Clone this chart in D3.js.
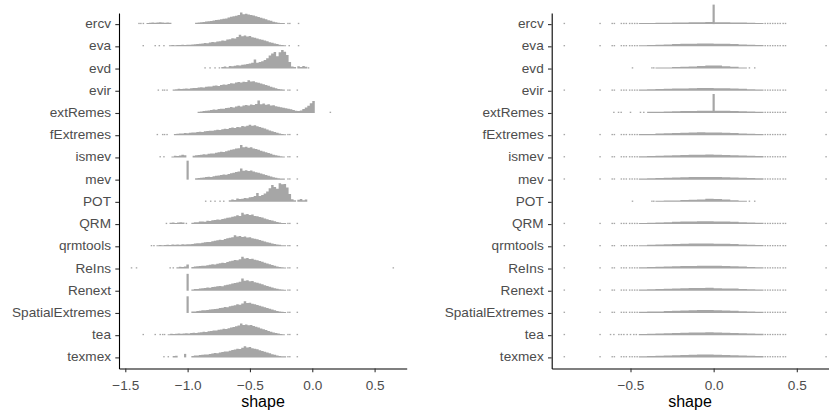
<!DOCTYPE html>
<html>
<head>
<meta charset="utf-8">
<script src="https://cdn.jsdelivr.net/npm/d3@7"></script>
<style>
  body { margin: 0; background: #fff; }
  svg { display: block; font-family: "Liberation Sans", Arial, sans-serif; }
</style>
</head>
<body>
<div id="container"></div>
<script>
var categories = ["ercv", "eva", "evd", "evir", "extRemes", "fExtremes", "ismev", "mev",
  "POT", "QRM", "qrmtools", "ReIns", "Renext", "SpatialExtremes", "tea", "texmex"];

var leftTicks = [-1.5, -1.0, -0.5, 0.0, 0.5];
var rightTicks = [-0.5, 0.0, 0.5];

// histogram bins: [start, counts...] per row, left panel bins are 0.02 wide
var leftBinWidth = 0.02;
var leftSegments = [
  [[-1.33, [0.8,1,1.2,1,1.3,1.5,1.2,1,1.3,1]],
   [-0.94, [1,1.3,1.5,1.6,2,2.2,2.4,2.8,3.1,3.3,3.7,4.2,4.4,5,5.6,6.1,6.4,7,8.9,7.6,8,7.4,7.1,6.6,6,5.4,4.8,4.4,3.7,3,2.5,1.9,1.4,1.1,0.9,0.8]]],
  [[-1.15, [0.8,1,0.8,1,1,1.2,1,1.3,1.2,1.5,1.6,1.8,2,2.1,2.5,2.4,2.9,3.3,3.1,3.8,4,4.5,4.3,5.2,5.5,6.3,6.1,7.2,8.9,7.8,8.3,7.6,7.9,7,6.6,6.1,5.5,5,4.4,3.9,3.2,2.7,2.1,1.7,1.3,1,0.8]]],
  [[-0.73, [1.2,1.5,1,2,1.8,2.2,2.5,2.3,3,3.2,3.5,3.8,4.5,7,4.5,5,5.6,6.5,8,10,11.5,12.8,9.5,12.5,14.3,13,10.5,5,1.5,1.2]],
   [-0.12, [1.8,1.2,2,1.4]]],
  [[-1.12, [1,1.2,1.5,1.3,1.5,1.8,1.6,2,2.2,2.1,2.5,2.8,2.6,3,3.3,3.2,3.8,4,3.7,4.4,4.8,4.6,5.3,5.8,5.5,6.3,6.8,6.4,7,6.8,8,7.1,7.4,6.6,6.2,5.6,5,4.4,3.8,3.1,2.5,1.9,1.4,1.1,0.9]]],
  [[-0.92, [1,1.2,1.5,1.8,2,2.3,2.6,2.4,3,3.3,3.2,3.8,4,4.6,4.3,5,5.6,4.9,5.8,6.2,5.7,6.6,6.1,7,9.6,6.8,7.2,6.3,6.7,5.8,6,5.2,4.8,4.5,4,3.6,3.2,2.8,2.2,1.8,1.5,2,3,4.2,5.5,7.5,9.2]]],
  [[-1.11, [0.9,1.1,1.3,1.4,1.6,1.5,1.9,2.1,2,2.4,2.6,2.5,3,3.2,3.5,3.4,3.9,4.2,4,4.6,5,4.8,5.5,5.9,5.6,6.4,6.2,7,6.6,7.3,8,7.2,7.6,6.8,6.3,5.7,5.1,4.3,3.7,3,2.4,1.8,1.4,1,0.8]]],
  [[-1.13, [0.8,1.2,1,1.5,2,1.6]],
   [-0.96, [1.3,1.6,1.8,2.1,2.4,2.3,2.8,3.1,3,3.5,3.9,4.3,4.1,4.8,5.3,5.9,6.2,6.8,7.1,9.5,7.8,8.2,7.5,7.9,6.9,6.4,5.9,5.2,4.6,4,3.4,2.8,2.1,1.6,1.2,0.9,0.8]]],
  [[-0.94, [1,1.3,1.4,1.7,2,2.2,2.1,2.6,2.9,3.2,3.5,3.9,3.7,4.4,4.9,5.3,5.8,6.2,8.5,6.9,7.3,6.7,7,6.2,5.7,5.3,4.7,4.1,3.6,3,2.4,1.9,1.4,1.1,0.9,0.8]]],
  [[-0.67, [1.2,1.8,1.5,2.5,2.2,2.4,3,2.8,3.5,3.8,4.5,6.9,4.6,5.2,6.5,8,10.5,13,11.5,10,14.3,13.6,13.8,11,6,2,1.3]],
   [-0.12, [1.6,2.2,1.2,1.8]]],
  [[-1.145, [1,1.2,0.8,1.3,1.5,1.2]],
   [-0.97, [1,1.5,1.5,2,2,1.8,2.5,2.4,3,3.2,3.6,3.3,4,4.3,4.8,5.1,5.6,6,6.8,6.3,8.7,7.4,7.8,7,7.3,6.2,6.1,5.4,5,4.2,3.8,3.1,2.7,2.2,1.6,1.2,0.9,0.8]]],
  [[-1.25, [0.8,1,0.8,1,1.2,1,1.3,1.1,1.4,1.2,1.5,1.3,1.6,1.5,1.8,2.1,2.4,2.3,2.8,3.1,3.4,3.3,3.9,4.2,4.6,5,4.8,5.6,6.1,6.5,7,8.5,7.6,7.9,7.2,7.5,6.8,7,6.2,5.8,5.4,4.9,4.3,3.7,3.2,2.7,2.2,1.8,1.4,1.1,0.9,0.8]]],
  [[-1.09, [1,1.4,1.2,1.6,3]],
   [-0.97, [1.2,1.5,1.7,2,2.2,2.1,2.6,2.9,3.2,3.1,3.7,4,4.5,4.3,5.1,5.6,6,6.5,6.3,7.2,9,7.8,8.1,7.4,7.6,6.8,6.3,5.7,5.2,4.5,3.9,3.3,2.7,2.1,1.6,1.2,0.9,0.8]]],
  [[-0.97, [1,1.3,1.4,1.7,1.9,2.1,2.4,2.3,2.8,3,3.4,3.7,3.5,4.2,4.6,5,5.5,6,6.4,7,9.5,7.6,8,7.3,7.5,6.6,6.1,5.6,4.9,4.3,3.7,3.1,2.5,2,1.5,1.1,0.9,0.8]]],
  [[-0.97, [1.1,1.2,1.5,1.6,2,2.1,2.3,2.6,2.9,3.1,3.3,3.8,4,4.5,4.4,5.1,5.5,6,6.6,6.3,7.2,9,7.7,7.9,7.1,6.7,6.2,5.6,5,4.4,3.8,3.2,2.6,2,1.5,1.1,0.9,0.8]]],
  [[-1.16, [0.8,1,0.9,1.1,1.2,1,1.3,1.4,1.3,1.6,1.8,1.7,2.1,2.3,2.6,2.5,3,3.3,3.6,3.5,4.1,4.4,4.9,4.7,5.4,5.9,6.3,6.8,7.4,9,7.9,8.3,7.6,7.8,7,6.4,5.9,5.2,4.6,4,3.3,2.7,2.1,1.6,1.2,0.9,0.8]]],
  [[-1.12, [1,1.2]],
   [-0.97, [1,1.4,1.5,1.8,2,2.3,2.2,2.7,3,3.3,3.2,3.8,4.1,4.6,4.5,5.2,5.7,6.1,6.7,6.5,7.4,8.5,7.6,8,7.1,6.6,6.2,5.5,4.9,4.3,3.7,3.1,2.5,2,1.5,1.1,0.9,0.8]]]
];
// single observations (count 1)
var leftDots = [
  [-1.39, -1.375, -1.355, -0.195, -0.18, -0.11],
  [-1.356, -1.26, -1.227, -1.19, -0.185, -0.11],
  [-0.86, -0.82, -0.78, -0.745, -0.03],
  [-1.235, -1.2, -1.185, -1.165, -0.195, -0.18, -0.12],
  [0.145],
  [-1.243, -1.2, -1.185, -1.165, -0.195, -0.18, -0.12],
  [-1.22, -1.19, -0.195, -0.18, -0.12],
  [-0.195, -0.18, -0.12],
  [-0.855, -0.815, -0.78, -0.74, -0.71],
  [-1.17, -1.01, -0.195, -0.18, -0.12],
  [-1.29, -1.27, -0.195, -0.18, -0.12],
  [-1.45, -1.41, -1.14, -1.115, -0.195, -0.18, -0.12, 0.65],
  [-0.195, -0.18, -0.12],
  [-0.195, -0.18, -0.12],
  [-1.356, -1.26, -1.22, -1.2, -1.185, -0.195, -0.18, -0.12],
  [-1.19, -1.155, -0.195, -0.18, -0.12]
];
// narrow spikes: [x, count]
var leftSpikes = [null, null, null, null, null, null, null, [-1.0, 14.6],
  null, null, null, null, [-1.0, 13], [-1.0, 12.8], null, [-1.02, 2.7]];

// right panel bins are 0.05 wide
var rightBinWidth = 0.05;
var rightSegments = [
  [[-0.45, [0.8,0.9,1,1.1,1.2,1.3,1.4,1.5,1.6,1.5,1.4,1.3,1.2,1,0.9]]],
  [[-0.45, [0.9,1.1,1.3,1.5,1.7,1.9,2,2.1,2.1,2,1.9,1.7,1.4,1.2,1]]],
  [[-0.35, [0.8,0.9,1.1,1.3,1.6,2,2.4,2.3,1.8,1.3,0.9]]],
  [[-0.45, [0.9,1.1,1.3,1.5,1.7,1.8,2,2.1,2.2,2,1.9,1.7,1.5,1.2,1]]],
  [[-0.4, [0.9,1,1.2,1.3,1.5,1.6,1.7,1.7,1.8,1.7,1.5,1.3,1.1,0.9]]],
  [[-0.45, [0.9,1,1.3,1.5,1.7,1.9,2,2.2,2.1,2,1.9,1.7,1.4,1.2,1]]],
  [[-0.45, [0.9,1.1,1.3,1.5,1.6,1.9,2.1,2.1,2.2,2,1.8,1.7,1.4,1.2,1]]],
  [[-0.45, [0.9,1.1,1.2,1.5,1.7,1.8,2,2.1,2.1,2,1.9,1.6,1.4,1.2,1]]],
  [[-0.35, [0.8,1,1.1,1.4,1.7,1.9,2.4,2.2,1.9,1.2,0.9]]],
  [[-0.45, [0.9,1.1,1.3,1.5,1.7,1.9,2,2.2,2.1,2,1.9,1.7,1.5,1.2,1]]],
  [[-0.45, [0.9,1.1,1.3,1.5,1.8,1.9,2.1,2.1,2.2,2,1.9,1.7,1.4,1.2,1]]],
  [[-0.45, [0.9,1.2,1.3,1.6,1.7,1.9,2,2.2,2.1,2.1,1.9,1.7,1.5,1.2,1]]],
  [[-0.45, [0.9,1.1,1.3,1.5,1.7,1.9,2.1,2.1,2.2,2,1.8,1.7,1.4,1.2,1]]],
  [[-0.45, [0.9,1.1,1.2,1.5,1.7,1.8,2,2.2,2.2,2,1.9,1.6,1.4,1.2,1]]],
  [[-0.45, [0.9,1,1.3,1.5,1.7,1.9,2,2.1,2.2,2.1,1.9,1.7,1.4,1.2,1]]],
  [[-0.45, [0.9,1.1,1.3,1.5,1.7,1.9,2.1,2.2,2.2,2,1.9,1.7,1.4,1.2,1]]]
];
var rightLowTail = [-0.898, -0.683, -0.61, -0.597, -0.555, -0.54, -0.525, -0.505, -0.49, -0.475, -0.46];
var rightHighTail = [0.31, 0.325, 0.34, 0.355, 0.37, 0.385, 0.4, 0.418, 0.432];
var rightDots = [
  rightLowTail.concat(rightHighTail),
  rightLowTail.concat(rightHighTail, [0.676]),
  [-0.488, -0.371, -0.36, 0.215, 0.247],
  rightLowTail.concat(rightHighTail, [0.676]),
  [-0.6, -0.572, -0.556, -0.5, -0.44, -0.42].concat(rightHighTail, [0.676]),
  rightLowTail.concat(rightHighTail, [0.676]),
  rightLowTail.concat(rightHighTail, [0.676]),
  rightLowTail.concat(rightHighTail, [0.676]),
  [-0.488, -0.371, -0.36, 0.215, 0.247],
  rightLowTail.concat(rightHighTail, [0.676]),
  rightLowTail.concat(rightHighTail, [0.676]),
  rightLowTail.concat(rightHighTail, [0.676]),
  rightLowTail.concat(rightHighTail, [0.676]),
  rightLowTail.concat(rightHighTail, [0.676]),
  [-0.898, -0.683, -0.62, -0.6, -0.57, -0.555, -0.54, -0.52, -0.5, -0.48, -0.465].concat(rightHighTail, [0.676]),
  rightLowTail.concat(rightHighTail, [0.676])
];
var rightSpikes = [[0.0, 15], null, null, null, [0.0, 14.6], null, null, null,
  null, null, null, null, null, null, null, null];

var width = 829, height = 414;
var fill = "#a6a6a6";

var svg = d3.select("#container").append("svg")
  .attr("width", width)
  .attr("height", height);

// rows
var y = d3.scalePoint().domain(categories).range([13, 368.5]).padding(0.5);
// count -> pixel height
var h = d3.scaleLinear().domain([0, 15]).range([0, 19.5]);

function drawPanel(x, ticks, segments, dots, spikes, binWidth, titleX) {
  var g = svg.append("g");

  categories.forEach(function (cat, i) {
    var base = y(cat);
    var row = g.append("g");

    segments[i].forEach(function (seg) {
      var start = seg[0], counts = seg[1];
      var pts = counts.map(function (c, j) { return [start + j * binWidth, c]; });
      pts.push([start + counts.length * binWidth, counts[counts.length - 1]]);
      var area = d3.area().curve(d3.curveStepAfter)
        .x(function (d) { return x(d[0]); })
        .y0(base)
        .y1(function (d) { return base - h(d[1]); });
      row.append("path").attr("d", area(pts)).attr("fill", fill);
    });

    row.selectAll("rect.dot").data(dots[i]).enter().append("rect")
      .attr("class", "dot")
      .attr("x", function (d) { return x(d) - 0.75; })
      .attr("y", base - h(1))
      .attr("width", 1.5)
      .attr("height", h(1))
      .attr("fill", fill);

    if (spikes[i]) {
      var s = spikes[i];
      row.append("rect")
        .attr("x", x(s[0]) - 1.1)
        .attr("y", base - h(s[1]))
        .attr("width", 2.2)
        .attr("height", h(s[1]))
        .attr("fill", fill);
    }
  });

  var x0 = x.range()[0];

  // Y axis
  var ya = svg.append("g")
    .attr("transform", "translate(" + x0 + ",0)")
    .call(d3.axisLeft(y).tickSize(3.7).tickSizeOuter(0).tickPadding(4.3));

  // X axis
  var xa = svg.append("g")
    .attr("transform", "translate(0," + y.range()[1] + ")")
    .call(d3.axisBottom(x).tickValues(ticks).tickFormat(d3.format(".1f"))
      .tickSize(3.7).tickSizeOuter(0));

  [ya, xa].forEach(function (a) {
    a.attr("font-family", null).attr("font-size", null);
    a.select(".domain").attr("stroke", "#000").attr("stroke-width", 1.1);
    a.selectAll(".tick line").attr("stroke", "#333").attr("stroke-width", 1.1);
    a.selectAll(".tick text").attr("fill", "#4d4d4d").style("font-size", "13.6px");
  });
  ya.selectAll(".tick text").attr("dy", "0.26em");
  xa.selectAll(".tick text").attr("y", 21).attr("dy", 0);

  svg.append("text")
    .attr("x", titleX)
    .attr("y", 406.5)
    .attr("text-anchor", "middle")
    .style("font-size", "16px")
    .attr("fill", "#000")
    .text("shape");
}

var xLeft = d3.scaleLinear().domain([-1.5505, 0.7575]).range([119, 406.7]);
var xRight = d3.scaleLinear().domain([-0.9738, 0.6936]).range([551.7, 829]);

drawPanel(xLeft, leftTicks, leftSegments, leftDots, leftSpikes, leftBinWidth, 263);
drawPanel(xRight, rightTicks, rightSegments, rightDots, rightSpikes, rightBinWidth, 690);
</script>
</body>
</html>
